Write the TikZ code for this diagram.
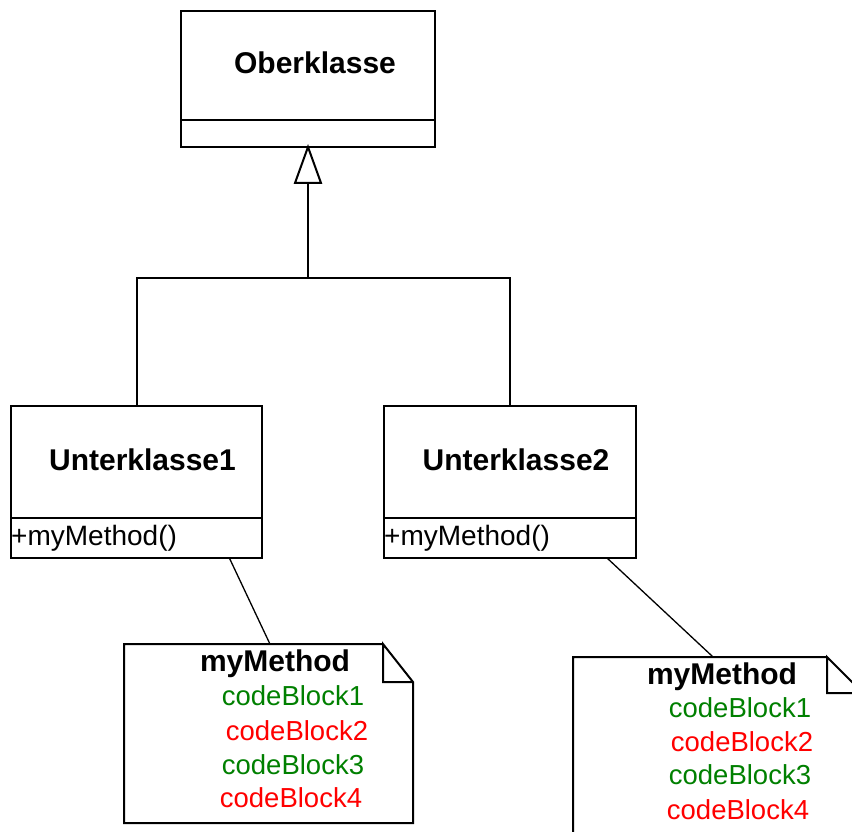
\documentclass[tikz,border=0pt]{standalone}
\usepackage{fontspec}
\setmainfont{Liberation Sans}
\usetikzlibrary{calc}
\definecolor{codegreen}{RGB}{0,128,0}
\definecolor{codered}{RGB}{255,0,0}

\begin{document}
\begin{tikzpicture}[x=1pt,y=-1pt,
  compartment/.style={draw, line width=2pt, rectangle, inner sep=0pt, outer sep=0pt,
    anchor=north west, minimum width=#1},
  classname/.style={inner sep=0pt, text height=21.5pt, text depth=0pt,
    font=\fontsize{30}{36}\selectfont\bfseries},
  operation/.style={inner sep=0pt, anchor=west, text height=20pt, text depth=0pt,
    font=\fontsize{28}{34}\selectfont},
  notetitle/.style={inner sep=0pt, text height=21.5pt, text depth=0pt,
    font=\fontsize{30}{36}\selectfont\bfseries},
  codeline/.style={inner sep=0pt, text height=19.5pt, text depth=0pt,
    font=\fontsize{27.5}{33}\selectfont, text=#1},
  notebody/.style={inner sep=0pt, outer sep=0pt, anchor=north west},
  notepath/.style={draw, line width=2pt, line join=miter},
  link/.style={draw, line width=1.3pt},
  tree/.style={draw, line width=2pt},
  genhead/.style={draw, line width=2pt, fill=white, line join=miter}]

  \clip (0,0) rectangle (852,832);
  \fill[white] (0,0) rectangle (852,832);

  % superclass
  \node[compartment=254pt, minimum height=109pt] (oberName) at (181,11) {};
  \node[compartment=254pt, minimum height=27pt] (oberOps) at (oberName.south west) {};
  \node[classname, xshift=7pt, yshift=3pt] (oberLabel) at (oberName.center) {Oberklasse};

  % subclass 1
  \node[compartment=251pt, minimum height=112pt] (u1Name) at (11,406) {};
  \node[compartment=251pt, minimum height=40pt] (u1Ops) at (u1Name.south west) {};
  \node[classname, xshift=6pt, yshift=2pt] (u1Label) at (u1Name.center) {Unterklasse1};
  \node[operation] (u1Op) at ($(u1Ops.west)+(0,-3)$) {+myMethod()};

  % subclass 2
  \node[compartment=252pt, minimum height=112pt] (u2Name) at (384,406) {};
  \node[compartment=252pt, minimum height=40pt] (u2Ops) at (u2Name.south west) {};
  \node[classname, xshift=6pt, yshift=2pt] (u2Label) at (u2Name.center) {Unterklasse2};
  \node[operation] (u2Op) at ($(u2Ops.west)+(0,-3)$) {+myMethod()};

  % generalization tree
  \coordinate (apex) at (oberOps.south);
  \coordinate (headBase) at ($(apex)+(0,36)$);
  \coordinate (joint) at (apex |- 0,278);
  \draw[tree] (headBase) -- (joint);
  \draw[tree] (u1Name.north) |- (joint) -| (u2Name.north);
  \draw[genhead] (apex) -- ($(headBase)+(-13,0)$) -- ($(headBase)+(13,0)$) -- cycle;

  % note 1
  \node[notebody, minimum width=289pt, minimum height=179pt] (note1) at (124,644) {};
  \draw[notepath] ($(note1.north east)+(-30,0)$) -- (note1.north west)
    -- (note1.south west) -- (note1.south east) -- ($(note1.north east)+(0,38)$)
    -- ($(note1.north east)+(-30,0)$) -- ($(note1.north east)+(-30,38)$)
    -- ($(note1.north east)+(0,38)$);
  \node[notetitle] (n1t) at (275,661) {myMethod};
  \node[codeline=codegreen] (n1c1) at (293,696) {codeBlock1};
  \node[codeline=codered]   (n1c2) at (297,731) {codeBlock2};
  \node[codeline=codegreen] (n1c3) at (293,765) {codeBlock3};
  \node[codeline=codered]   (n1c4) at (291,798) {codeBlock4};

  % note 2
  \node[notebody, minimum width=290pt, minimum height=190pt] (note2) at (573,657) {};
  \draw[notepath] ($(note2.north east)+(-36,0)$) -- (note2.north west)
    -- (note2.south west) -- (note2.south east) -- ($(note2.north east)+(0,36)$)
    -- ($(note2.north east)+(-36,0)$) -- ($(note2.north east)+(-36,36)$)
    -- ($(note2.north east)+(0,36)$);
  \node[notetitle] (n2t) at (722,674) {myMethod};
  \node[codeline=codegreen] (n2c1) at (740,708) {codeBlock1};
  \node[codeline=codered]   (n2c2) at (742,742) {codeBlock2};
  \node[codeline=codegreen] (n2c3) at (740,775) {codeBlock3};
  \node[codeline=codered]   (n2c4) at (738,810) {codeBlock4};

  % note anchors
  \coordinate (n1from) at ($(u1Ops.south west)!0.87!(u1Ops.south east)$);
  \coordinate (n1to) at ($(note1.north west)!0.505!(note1.north east)$);
  \coordinate (n2from) at ($(u2Ops.south west)!0.885!(u2Ops.south east)$);
  \coordinate (n2to) at ($(note2.north west)!0.483!(note2.north east)$);
  \draw[link] (n1from) -- (n1to);
  \draw[link] (n2from) -- (n2to);
\end{tikzpicture}
\end{document}
